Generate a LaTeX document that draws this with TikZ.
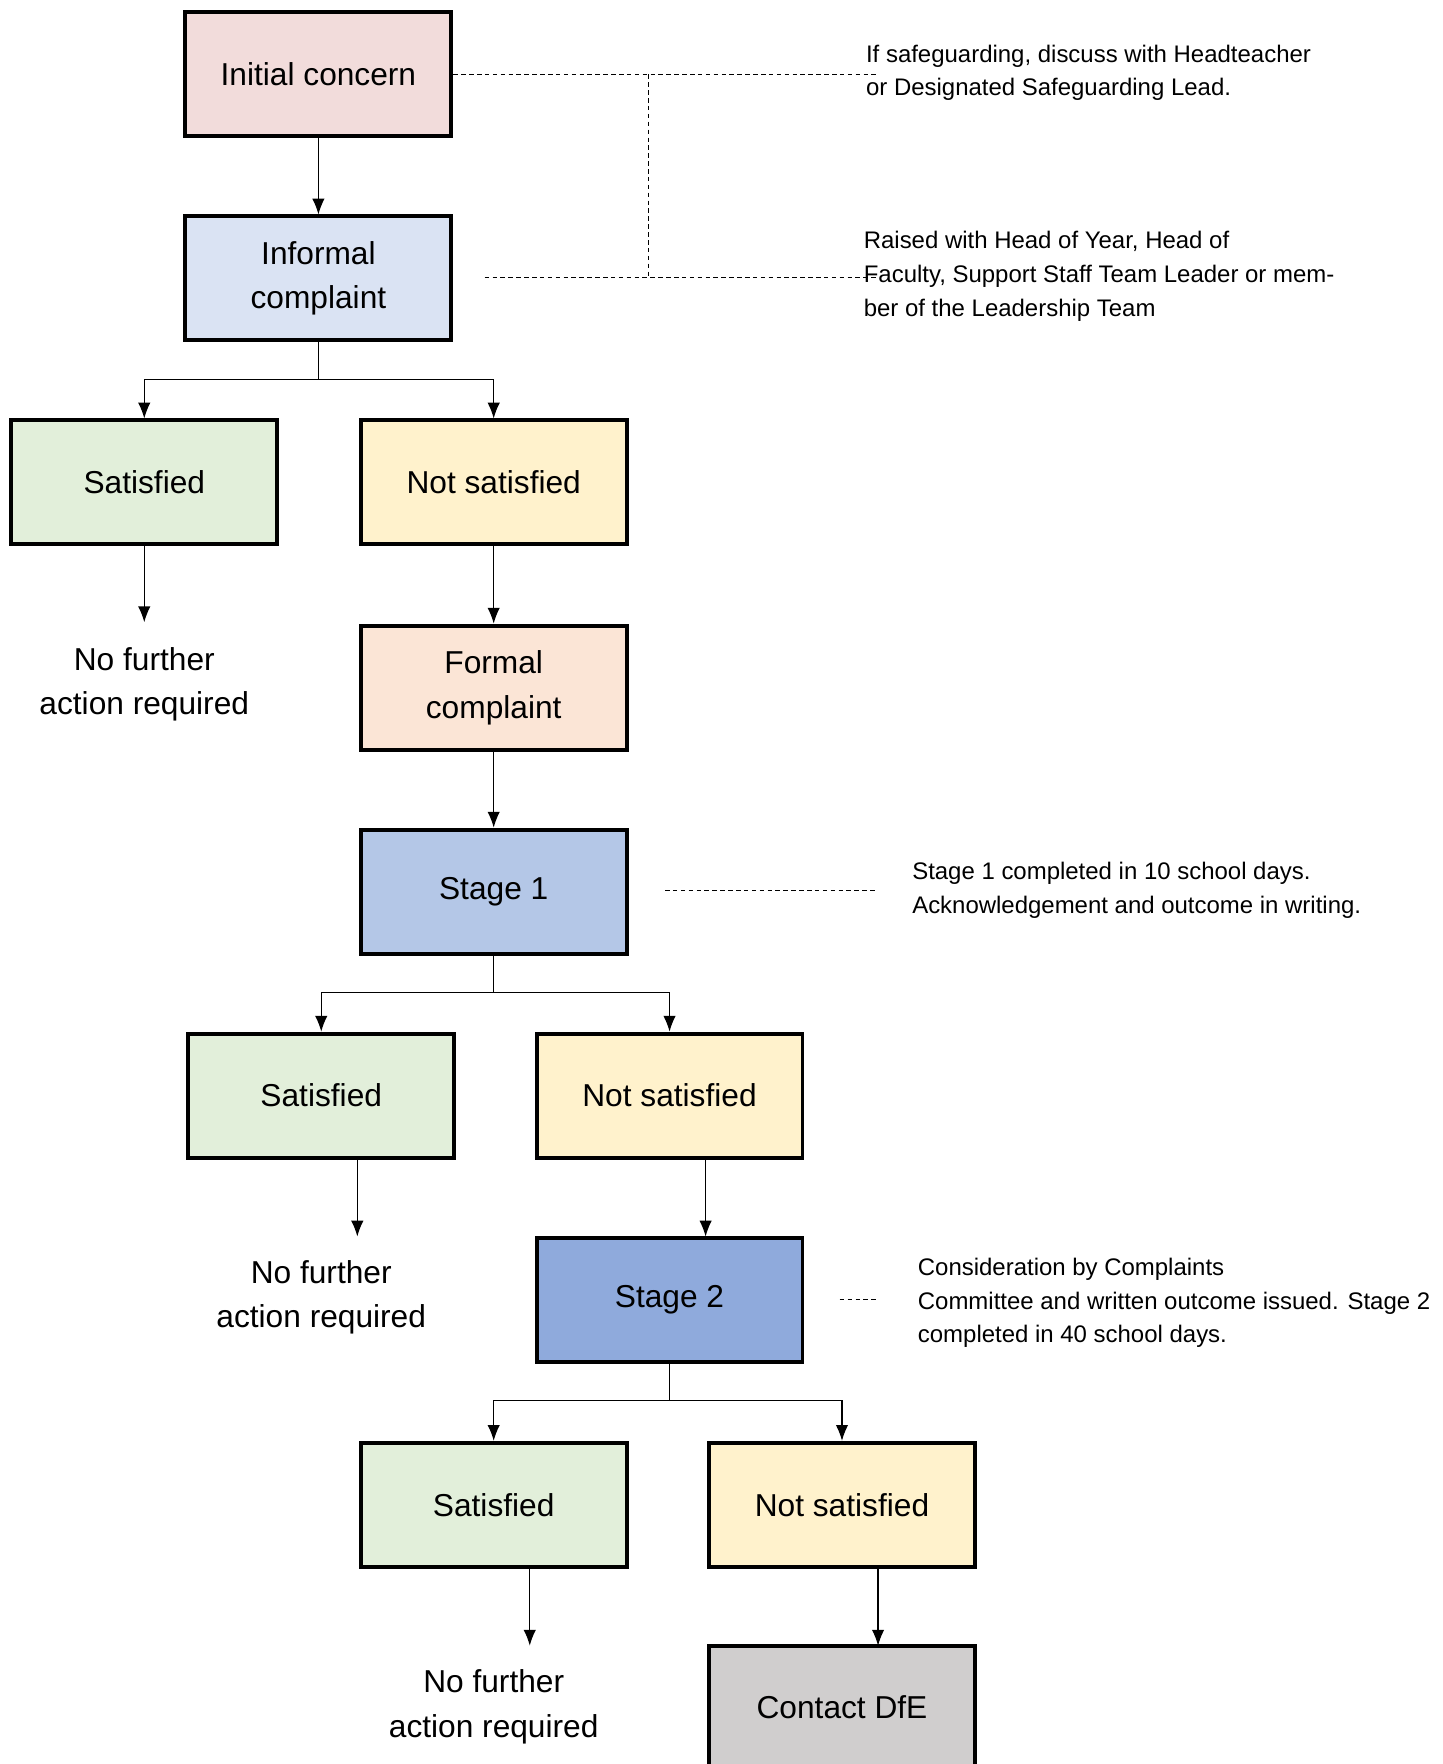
\documentclass[tikz,border=0pt]{standalone}
\usepackage{fontspec}
\setmainfont{Liberation Sans}
\usetikzlibrary{arrows.meta}
\definecolor{concernpink}{HTML}{F2DCDB}
\definecolor{informalblue}{HTML}{DAE3F3}
\definecolor{satisfiedgreen}{HTML}{E2EFDA}
\definecolor{notsatyellow}{HTML}{FFF2CC}
\definecolor{formalpeach}{HTML}{FBE5D6}
\definecolor{stageoneblue}{HTML}{B4C7E7}
\definecolor{stagetwoblue}{HTML}{8FAADC}
\definecolor{dfegrey}{HTML}{D0CECE}
\begin{document}
\begin{tikzpicture}
[x=0.02cm,y=-0.02cm,
 boxdecorate/.style={shape=rectangle,draw,line width=2pt,minimum width=4.72cm,minimum height=2.2cm,align=center,font=\fontsize{16}{22.5}\selectfont},
 textdecorate/.style={align=center,inner sep=0pt,font=\fontsize{16}{22.5}\selectfont},
 notedecorate/.style={anchor=west,align=left,inner sep=0pt,font=\fontsize{12.1}{17}\selectfont},
 linedecorate/.style={-{Latex[length=0.28cm,width=0.22cm]},line width=0.6pt},
 dashdecorate/.style={dash pattern=on 0.08cm off 0.06cm,line width=0.5pt}]
\useasboundingbox (0,0) rectangle (1280,1565);
%% boxes
\foreach \nodename/\x/\y/\fillcolour/\nodetext in {
  init/282.5/66/concernpink/{Initial concern},
  inf/282.5/247/informalblue/{Informal\\complaint},
  sat1/128/428/satisfiedgreen/{Satisfied},
  ns1/438/428/notsatyellow/{Not satisfied},
  formal/438/610/formalpeach/{Formal\\complaint},
  st1/438/791/stageoneblue/{Stage 1},
  sat2/285/972/satisfiedgreen/{Satisfied},
  ns2/594/972/notsatyellow/{Not satisfied},
  st2/594/1153/stagetwoblue/{Stage 2},
  sat3/438/1335/satisfiedgreen/{Satisfied},
  ns3/747/1335/notsatyellow/{Not satisfied},
  dfe/747/1515/dfegrey/{Contact DfE}} {
  \node (\nodename) at (\x,\y) [boxdecorate,fill=\fillcolour] {\nodetext};
}
%% outcome texts
\foreach \nodename/\x/\y in {nofa1/128/607, nofa2/285/1151, nofa3/438/1514} {
  \node (\nodename) at (\x,\y) [textdecorate] {No further\\action required};
}
%% notes
\node (note1) at (768,64.5) [notedecorate] {If safeguarding, discuss with Headteacher\\or Designated Safeguarding Lead.};
\node (note2) at (766,245) [notedecorate] {Raised with Head of Year, Head of\\Faculty, Support Staff Team Leader or mem-\\ber of the Leadership Team};
\node (note3) at (809,790) [notedecorate] {Stage 1 completed in 10 school days.\\Acknowledgement and outcome in writing.};
\node (note4) at (814,1156) [notedecorate] {Consideration by Complaints\\Committee and written outcome issued. Stage 2\\completed in 40 school days.};
%% arrow ends off centre
\coordinate (end1) at (128,552);
\coordinate (end2) at (317,1097);
\coordinate (end3) at (626,1097);
\coordinate (end4) at (470,1460);
\coordinate (end5) at (779,1460);
%% straight edges
\path
\foreach \startnode/\endnode in {init/inf, ns1/formal, formal/st1} {
  (\startnode) edge[linedecorate] (\endnode)
};
\draw[linedecorate] (sat1.south) -- (end1);
\foreach \startnode/\endnode in {sat2/end2, ns2/end3, sat3/end4, ns3/end5} {
  \draw[linedecorate] (\startnode.south -| \endnode) -- (\endnode);
}
%% branch edges
\foreach \startnode/\endnode in {inf/sat1, inf/ns1, st1/sat2, st1/ns2, st2/sat3, st2/ns3} {
  \draw[linedecorate] (\startnode.south) -- ++(0,33) -| (\endnode.north);
}
%% dashed note lines
\coordinate (dash1) at (778,66);
\coordinate (dash2) at (778,246);
\coordinate (dash3) at (777,790);
\coordinate (dash4) at (778,1153);
\coordinate (dashknee) at (575,66);
\draw[dashdecorate] (init.east) -- (dash1);
\draw[dashdecorate] (dashknee) -- (dashknee |- dash2) -- (dash2);
\draw[dashdecorate] (430,246) -- (dashknee |- dash2);
\draw[dashdecorate] (590,790) -- (dash3);
\draw[dashdecorate] (745,1153) -- (dash4);
\end{tikzpicture}
\end{document}
